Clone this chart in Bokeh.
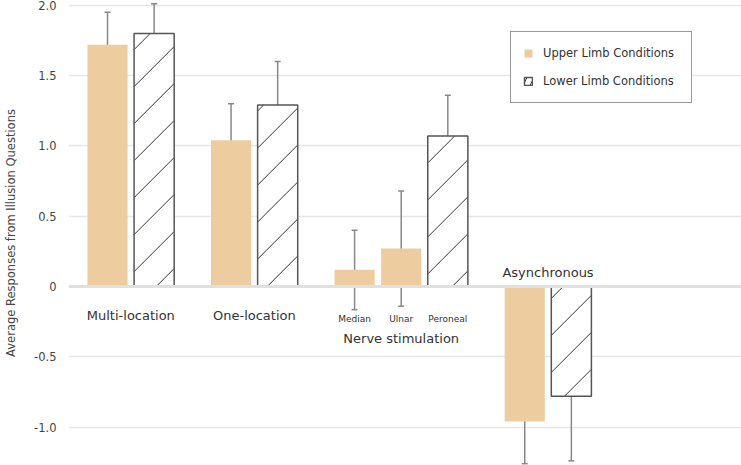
from bokeh.plotting import figure
from bokeh.models import (ColumnDataSource, Range1d, Whisker, TeeHead, Span, FixedTicker,
                          CustomJSTickFormatter, Legend, LegendItem)
from bokeh.core.properties import value
from bokeh.embed import file_html
from bokeh.resources import INLINE

# ---- data ----
groups = ["Multi-location", "Multi-location", "One-location", "One-location",
          "Nerve stimulation", "Nerve stimulation", "Nerve stimulation",
          "Asynchronous", "Asynchronous"]
sub_labels = ["", "", "", "", "Median", "Ulnar", "Peroneal", "", ""]
limb = ["Upper", "Lower", "Upper", "Lower", "Upper", "Upper", "Lower", "Upper", "Lower"]
means = [1.72, 1.80, 1.04, 1.29, 0.12, 0.27, 1.07, -0.96, -0.78]
err_low = [1.50, 1.59, 0.775, 0.98, -0.165, -0.14, 0.77, -1.26, -1.24]
err_high = [1.95, 2.01, 1.30, 1.60, 0.40, 0.68, 1.36, -0.66, -0.32]
y_ticks = [-1.0, -0.5, 0, 0.5, 1.0, 1.5, 2.0]
legend_labels = {"Upper": "Upper Limb Conditions", "Lower": "Lower Limb Conditions"}

FONT = "DejaVu Sans"
TAN = "#EDCC9F"
GAP = 0.65
BAR_W = 0.86

W, H = 741, 465
LEFT = 68
X0, X1 = -0.837, 13.6
Y0, Y1 = -1.273, 2.034

# positions derived from group order
group_order = []
for g in groups:
    if g not in group_order:
        group_order.append(g)
xs = [i + GAP * group_order.index(g) for i, g in enumerate(groups)]

p = figure(width=W, height=H, output_backend="svg", toolbar_location=None,
           x_range=Range1d(X0, X1), y_range=Range1d(Y0, Y1),
           min_border_left=LEFT, min_border_right=0, min_border_top=0, min_border_bottom=0)
p.outline_line_color = None
p.xaxis.visible = False
p.xgrid.visible = False
p.ygrid.grid_line_color = "#e6e6e6"
p.ygrid.grid_line_width = 1.5

yax = p.yaxis[0]
yax.ticker = FixedTicker(ticks=y_ticks)
yax.formatter = CustomJSTickFormatter(code="return tick == 0 ? '0' : tick.toFixed(1);")
yax.axis_line_color = None
yax.major_tick_line_color = None
yax.minor_tick_line_color = None
yax.major_label_standoff = 6
yax.major_label_text_font = FONT
yax.major_label_text_font_size = "11.5px"
yax.major_label_text_color = "#444444"
yax.axis_label = "Average Responses from Illusion Questions"
yax.axis_label_text_font = FONT
yax.axis_label_text_font_size = "11.5px"
yax.axis_label_text_font_style = "normal"
yax.axis_label_text_color = "#444444"
yax.axis_label_standoff = 13

p.add_layout(Span(location=0, dimension="width", line_color="#e0e0e0", line_width=3))

def subset(key):
    idx = [i for i, l in enumerate(limb) if l == key]
    return ColumnDataSource(dict(x=[xs[i] for i in idx], top=[means[i] for i in idx],
                                 lo=[err_low[i] for i in idx], hi=[err_high[i] for i in idx]))

src_u = subset("Upper")
src_l = subset("Lower")

r_u = p.vbar(x="x", top="top", bottom=0, width=BAR_W, source=src_u,
             fill_color=TAN, line_color=None)
p.vbar(x="x", top="top", bottom=0, width=BAR_W, source=src_l,
       fill_color="white", line_color=None)

# 45-degree hatch lines inside the lower-limb bars, computed from the bar data
sx = (W - LEFT) / (X1 - X0)
sy = H / (Y1 - Y0)
SPACING, PHASE = 37.0, 34.7
def to_sx(x): return LEFT + (x - X0) * sx
def to_sy(y): return (Y1 - y) * sy
def to_dx(px): return X0 + (px - LEFT) / sx
def to_dy(py): return Y1 - py / sy
hx0, hy0, hx1, hy1 = [], [], [], []
for xc, top in zip(src_l.data["x"], src_l.data["top"]):
    L, R = to_sx(xc - BAR_W / 2), to_sx(xc + BAR_W / 2)
    T, B = sorted([to_sy(top), to_sy(0)])
    k0 = int((L + T - PHASE) // SPACING) - 1
    k1 = int((R + B - PHASE) // SPACING) + 1
    for k in range(k0, k1 + 1):
        c = PHASE + k * SPACING
        a, b = max(L, c - B), min(R, c - T)
        if b - a > 0.5:
            hx0.append(to_dx(a)); hy0.append(to_dy(c - a))
            hx1.append(to_dx(b)); hy1.append(to_dy(c - b))
p.segment(x0=hx0, y0=hy0, x1=hx1, y1=hy1, line_color="#333333", line_width=1)

# zero-height hatched bars: used only to draw the hatched legend swatch
r_l_hatch = p.vbar(x="x", top=0, bottom=0, width=BAR_W, source=src_l,
                   fill_color="white", line_color=None,
                   hatch_pattern="/", hatch_scale=14, hatch_color="#333333", hatch_weight=1)
r_l = p.vbar(x="x", top="top", bottom=0, width=BAR_W, source=src_l,
             fill_color=None, line_color="#555555", line_width=1.5)

for src in (src_u, src_l):
    w = Whisker(base="x", lower="lo", upper="hi", source=src,
                line_color="#888888", line_width=1.5,
                upper_head=TeeHead(size=6, line_color="#888888", line_width=1.5),
                lower_head=TeeHead(size=6, line_color="#888888", line_width=1.5))
    p.add_layout(w)

# group labels
gx = []
for g in group_order:
    members = [xs[i] for i, gg in enumerate(groups) if gg == g]
    gx.append(sum(members) / len(members))
g_off = [29, 29, 52, -14]
p.text(x=gx, y=[0] * len(gx), text=group_order, y_offset=g_off,
       text_font=value(FONT), text_font_size="13px", text_color="#333333",
       text_align="center", text_baseline="middle")

sxs = [xs[i] for i, s in enumerate(sub_labels) if s]
st = [s for s in sub_labels if s]
p.text(x=sxs, y=[0] * len(sxs), text=st, y_offset=32,
       text_font=value(FONT), text_font_size="9px", text_color="#333333",
       text_align="center", text_baseline="middle")

legend = Legend(items=[LegendItem(label=legend_labels["Upper"], renderers=[r_u]),
                       LegendItem(label=legend_labels["Lower"], renderers=[r_l_hatch, r_l])],
                location=(442, 362), border_line_color="#333333", border_line_width=1,
                padding=12, spacing=10, label_height=18, glyph_width=10, glyph_height=10,
                label_standoff=10, label_width=136, margin=0,
                label_text_font=FONT, label_text_font_size="11.5px",
                label_text_color="#333333", background_fill_alpha=1)
p.add_layout(legend)

open("out.html", "w").write(file_html(p, INLINE))
